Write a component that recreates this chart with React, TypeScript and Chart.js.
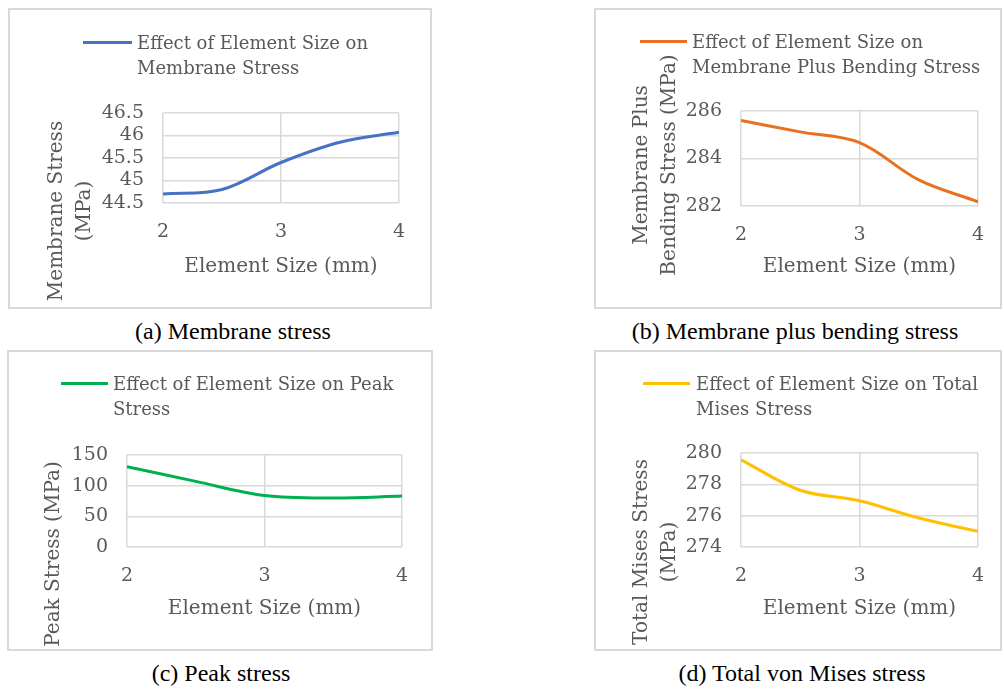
import React, { useEffect, useRef } from "react";
import { Chart, registerables } from "chart.js";

Chart.register(...registerables);

// ---------- data ----------
const elementSizes = [2, 2.5, 3, 3.5, 4];
const xTickValues = [2, 3, 4];

const membraneStress = [44.7, 44.8, 45.4, 45.85, 46.07];
const membranePlusBendingStress = [285.6, 285.12, 284.67, 283.1, 282.18];
const peakStress = [131, 107, 84, 80, 83];
const totalMisesStress = [279.57, 277.62, 276.95, 275.85, 275.0];

const membraneTicks = [44.5, 45, 45.5, 46, 46.5];
const bendingTicks = [282, 284, 286];
const peakTicks = [0, 50, 100, 150];
const misesTicks = [274, 276, 278, 280];

const xAxisTitle = "Element Size (mm)";

// ---------- style ----------
const CHART_FONT = "'DejaVu Serif', serif";
const TEXT_GRAY = "#595959";
const GRID_GRAY = "#d9d9d9";

type Box = { left: number; top: number; right: number; bottom: number };

type PanelProps = {
  box: Box;
  plot: Box;
  values: number[];
  yTicks: number[];
  color: string;
  legendLines: string[];
  legendLine: { x1: number; x2: number; y: number };
  legendTextX: number;
  yTitleLines: string[];
  yTitleCenter: { x: number; y: number };
  caption: string;
  captionCenter: { x: number; y: number };
};

function Panel(p: PanelProps) {
  const ref = useRef<HTMLCanvasElement | null>(null);
  const width = p.box.right - p.box.left;
  const height = p.box.bottom - p.box.top;

  useEffect(() => {
    if (!ref.current) return;
    const tickFont = { family: CHART_FONT, size: 19 };
    const titleFont = { family: CHART_FONT, size: 20 };
    const chart = new Chart(ref.current, {
      type: "line",
      data: {
        datasets: [
          {
            label: p.legendLines.join(" "),
            data: elementSizes.map((x, i) => ({ x, y: p.values[i] })),
            borderColor: p.color,
            backgroundColor: p.color,
            borderWidth: 3,
            pointRadius: 0,
            tension: 0.35,
            fill: false,
          },
        ],
      },
      options: {
        animation: false,
        responsive: false,
        maintainAspectRatio: false,
        layout: {
          padding: {
            left: 0,
            top: p.plot.top - p.box.top,
            right: p.box.right - p.plot.right,
            bottom: 0,
          },
        },
        plugins: {
          legend: { display: false },
          tooltip: { enabled: false },
        },
        scales: {
          x: {
            type: "linear",
            min: xTickValues[0],
            max: xTickValues[xTickValues.length - 1],
            afterBuildTicks: (s: any) => {
              s.ticks = xTickValues.map((v) => ({ value: v }));
            },
            afterFit: (s: any) => {
              s.height = p.box.bottom - p.plot.bottom;
            },
            grid: { color: GRID_GRAY, lineWidth: 1.5, drawTicks: false },
            border: { display: false },
            ticks: {
              padding: 18,
              color: TEXT_GRAY,
              font: tickFont,
              autoSkip: false,
              maxRotation: 0,
              callback: (v: any) => String(v),
            },
            title: {
              display: true,
              text: xAxisTitle,
              color: TEXT_GRAY,
              font: titleFont,
              padding: { top: 0, bottom: 30 },
            },
          },
          y: {
            type: "linear",
            min: p.yTicks[0],
            max: p.yTicks[p.yTicks.length - 1],
            afterBuildTicks: (s: any) => {
              s.ticks = p.yTicks.map((v) => ({ value: v }));
            },
            afterFit: (s: any) => {
              s.width = p.plot.left - p.box.left;
            },
            grid: { color: GRID_GRAY, lineWidth: 1.5, drawTicks: false },
            border: { display: false },
            ticks: {
              padding: 19,
              color: TEXT_GRAY,
              font: tickFont,
              autoSkip: false,
              callback: (v: any) => String(v),
            },
          },
        },
      } as any,
    });
    return () => chart.destroy();
  }, []);

  const textStyle: React.CSSProperties = {
    fontFamily: CHART_FONT,
    color: TEXT_GRAY,
    whiteSpace: "nowrap",
  };

  return (
    <>
      <canvas
        ref={ref}
        width={width}
        height={height}
        style={{
          position: "absolute",
          left: p.box.left,
          top: p.box.top,
          width,
          height,
        }}
      />
      <div
        style={{
          position: "absolute",
          left: p.box.left,
          top: p.box.top,
          width,
          height,
          boxSizing: "border-box",
          border: `2px solid ${GRID_GRAY}`,
          pointerEvents: "none",
        }}
      />
      {/* legend */}
      <div
        style={{
          position: "absolute",
          left: p.legendLine.x1,
          top: p.legendLine.y - 1.5,
          width: p.legendLine.x2 - p.legendLine.x1,
          height: 3,
          background: p.color,
        }}
      />
      <div
        style={{
          ...textStyle,
          fontSize: 18,
          position: "absolute",
          left: p.legendTextX,
          top: p.legendLine.y - 12.5,
          lineHeight: "25px",
        }}
      >
        {p.legendLines.map((l, i) => (
          <div key={i}>{l}</div>
        ))}
      </div>
      {/* y-axis title */}
      <div
        style={{
          ...textStyle,
          fontSize: 20,
          position: "absolute",
          left: p.yTitleCenter.x,
          top: p.yTitleCenter.y,
          lineHeight: "28px",
          textAlign: "center",
          transform: "translate(-50%, -50%) rotate(-90deg)",
        }}
      >
        {p.yTitleLines.map((l, i) => (
          <div key={i}>{l}</div>
        ))}
      </div>
      {/* caption */}
      <div
        style={{
          position: "absolute",
          left: p.captionCenter.x - 250,
          top: p.captionCenter.y - 14,
          width: 500,
          lineHeight: "28px",
          textAlign: "center",
          fontFamily: "'Liberation Serif', 'Times New Roman', serif",
          fontSize: 24,
          color: "#000",
          whiteSpace: "nowrap",
        }}
      >
        {p.caption}
      </div>
    </>
  );
}

export default function App() {
  return (
    <div
      style={{
        position: "absolute",
        left: 0,
        top: 0,
        width: 1004,
        height: 691,
        background: "#fff",
        overflow: "hidden",
      }}
    >
      <Panel
        box={{ left: 8, top: 8, right: 432, bottom: 309 }}
        plot={{ left: 163, top: 113, right: 399, bottom: 203 }}
        values={membraneStress}
        yTicks={membraneTicks}
        color="#4472C4"
        legendLines={["Effect of Element Size on", "Membrane Stress"]}
        legendLine={{ x1: 83, x2: 132, y: 42 }}
        legendTextX={137}
        yTitleLines={["Membrane Stress", "(MPa)"]}
        yTitleCenter={{ x: 68.5, y: 211 }}
        caption="(a) Membrane stress"
        captionCenter={{ x: 233, y: 331 }}
      />
      <Panel
        box={{ left: 594, top: 8, right: 1002, bottom: 309 }}
        plot={{ left: 741, top: 111, right: 979, bottom: 206 }}
        values={membranePlusBendingStress}
        yTicks={bendingTicks}
        color="#E97020"
        legendLines={["Effect of Element Size on", "Membrane Plus Bending Stress"]}
        legendLine={{ x1: 640, x2: 687, y: 41 }}
        legendTextX={692}
        yTitleLines={["Membrane Plus", "Bending Stress (MPa)"]}
        yTitleCenter={{ x: 654, y: 165 }}
        caption="(b) Membrane plus bending stress"
        captionCenter={{ x: 795, y: 331 }}
      />
      <Panel
        box={{ left: 7, top: 350, right: 433, bottom: 651 }}
        plot={{ left: 127, top: 455, right: 402, bottom: 547 }}
        values={peakStress}
        yTicks={peakTicks}
        color="#00B050"
        legendLines={["Effect of Element Size on Peak", "Stress"]}
        legendLine={{ x1: 61, x2: 108, y: 383 }}
        legendTextX={113}
        yTitleLines={["Peak Stress (MPa)"]}
        yTitleCenter={{ x: 52, y: 554 }}
        caption="(c) Peak stress"
        captionCenter={{ x: 221, y: 673 }}
      />
      <Panel
        box={{ left: 594, top: 350, right: 1002, bottom: 651 }}
        plot={{ left: 741, top: 453, right: 979, bottom: 547 }}
        values={totalMisesStress}
        yTicks={misesTicks}
        color="#FFC000"
        legendLines={["Effect of Element Size on Total", "Mises Stress"]}
        legendLine={{ x1: 643, x2: 690, y: 383 }}
        legendTextX={696}
        yTitleLines={["Total Mises Stress", "(MPa)"]}
        yTitleCenter={{ x: 654, y: 552 }}
        caption="(d) Total von Mises stress"
        captionCenter={{ x: 802, y: 673 }}
      />
    </div>
  );
}
